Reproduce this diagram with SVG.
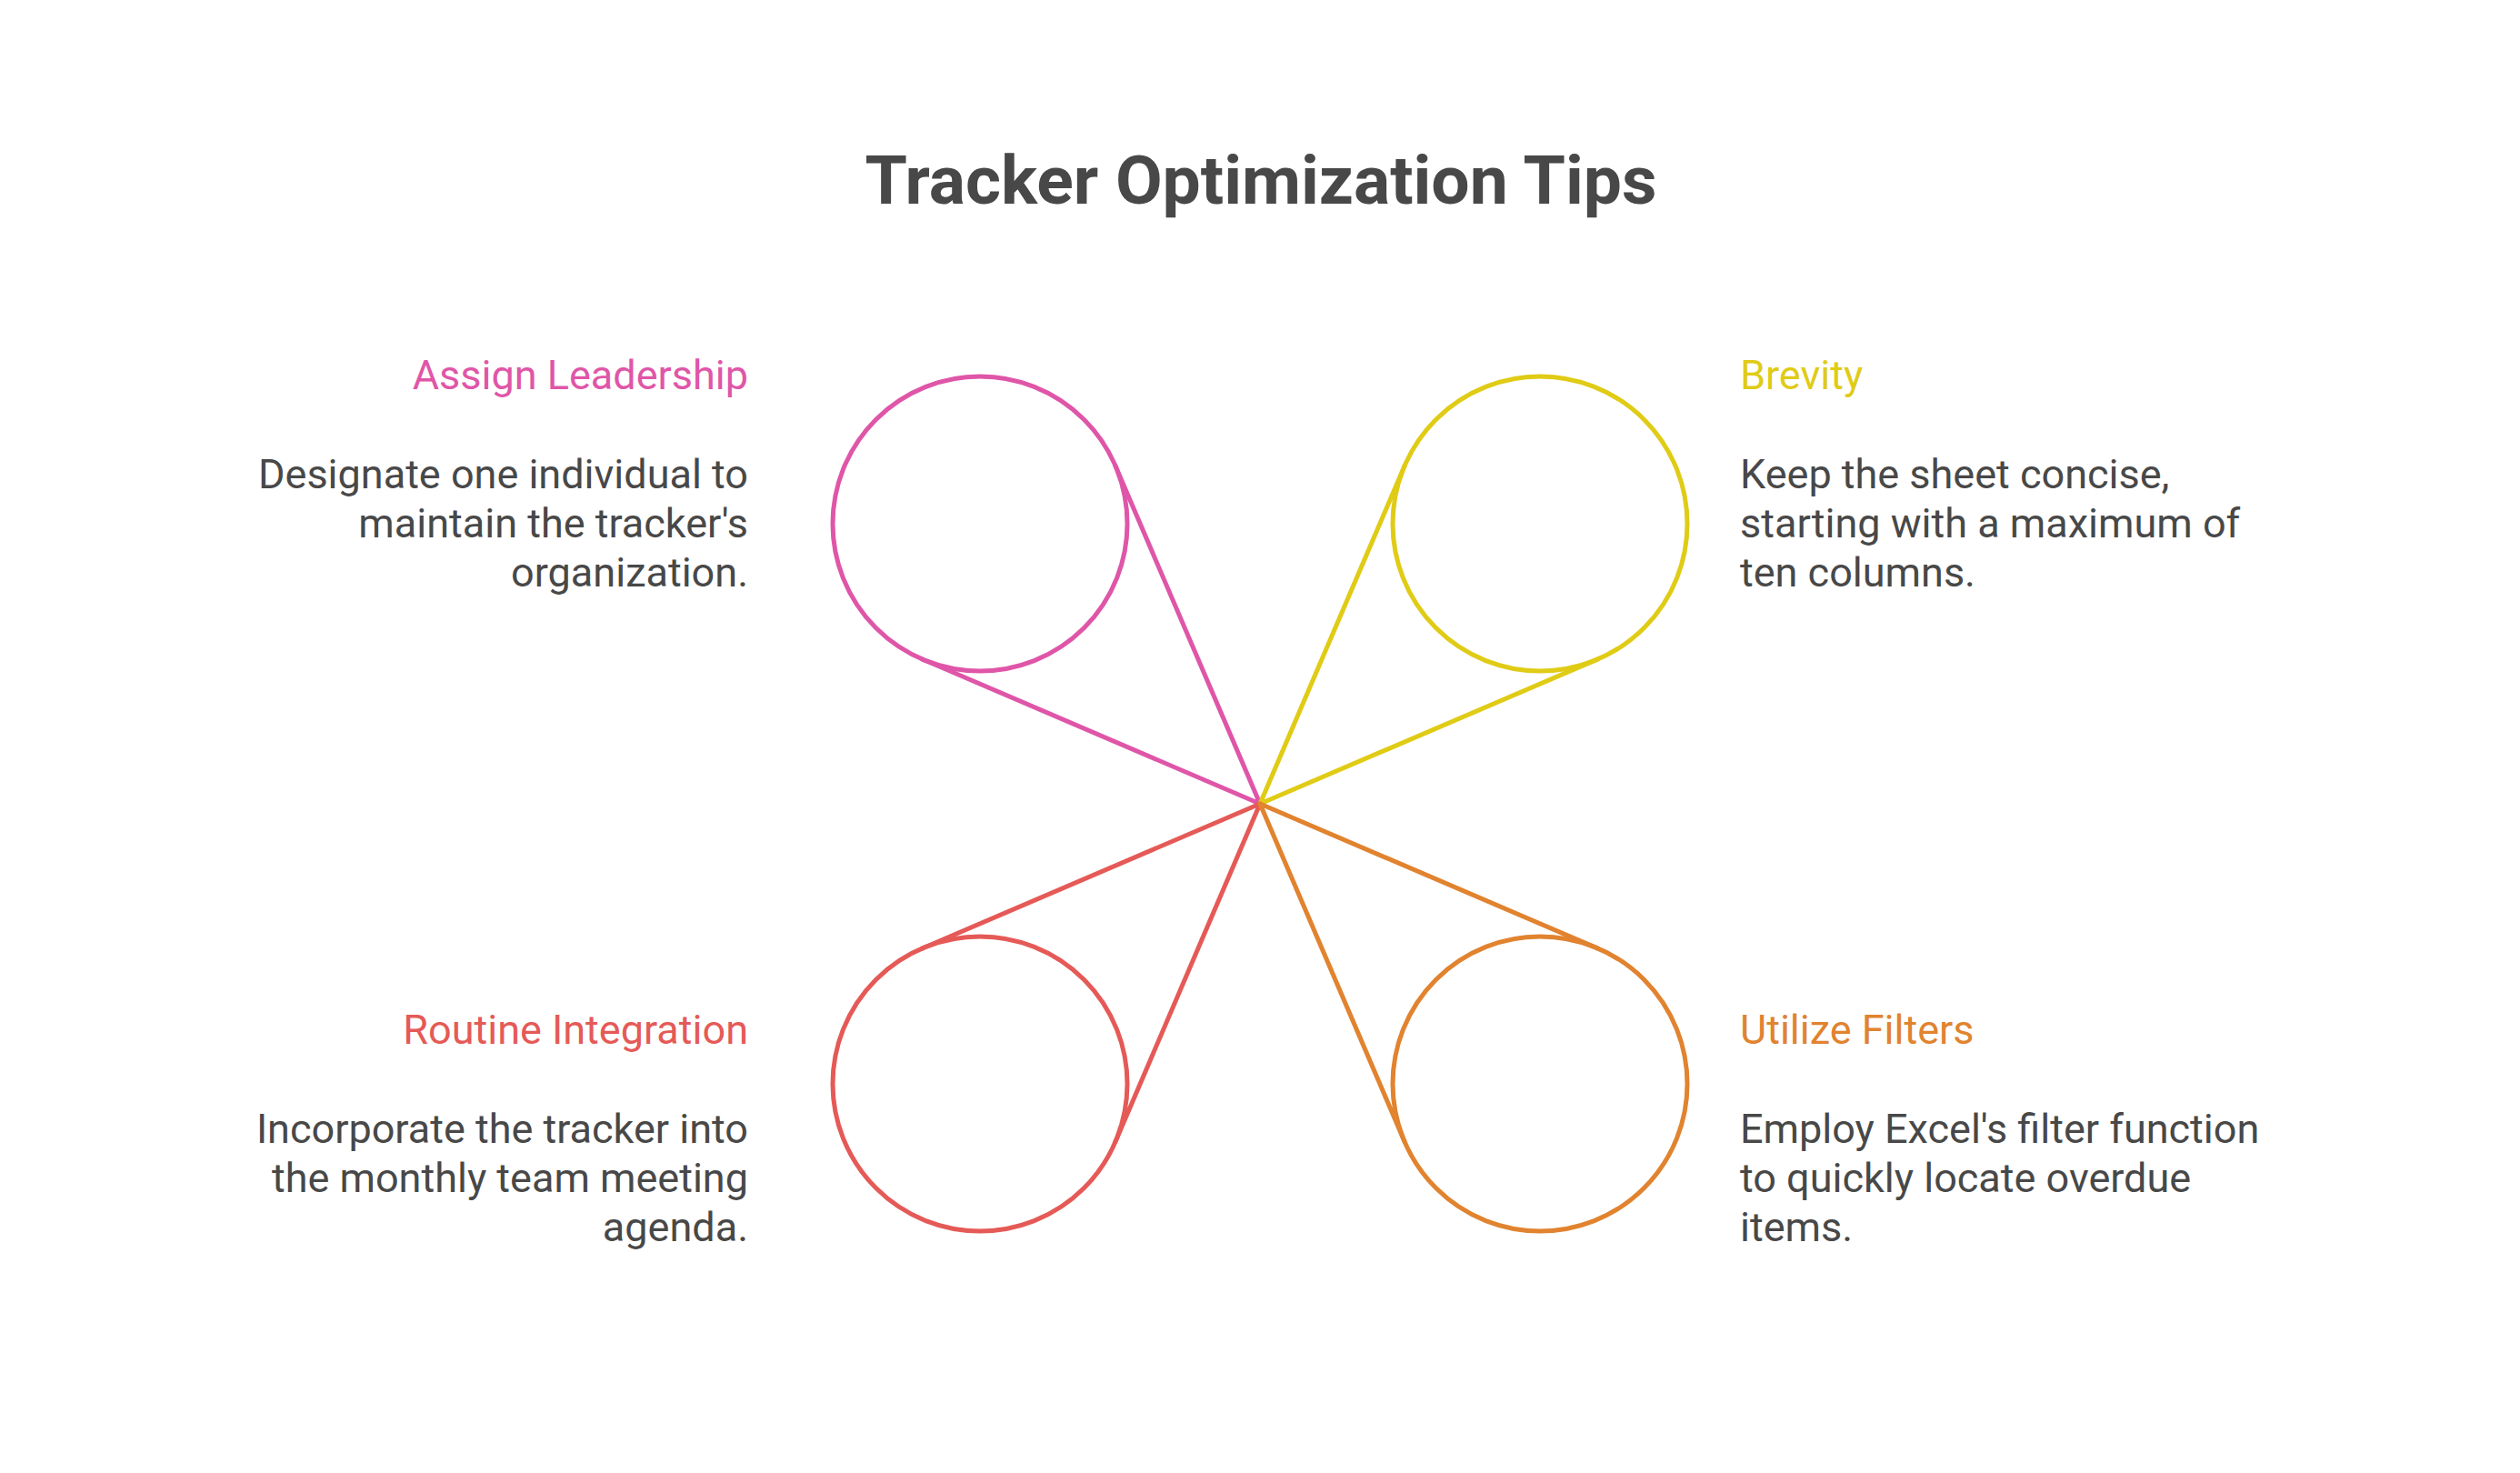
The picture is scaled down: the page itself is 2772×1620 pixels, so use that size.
<svg xmlns="http://www.w3.org/2000/svg" width="2772" height="1620" viewBox="0 0 2772 1620">
<style>
text{font-family:Roboto,"Liberation Sans",sans-serif}
.title{font-size:75px;font-weight:700;fill:#484848}
.h{font-size:45px}
.b{font-size:45px;fill:#484848}
.l{text-anchor:end}
.o{fill:none;stroke-width:5;stroke-linejoin:round;stroke-linecap:round}
</style>
<rect width="2772" height="1620" fill="#ffffff"/>
<text class="title" x="1387" y="224" text-anchor="middle">Tracker Optimization Tips</text>
<g id="connectors">
<path class="o" stroke="#DF56A8" d="M1226.9,512.3 L1386,884 L1014.3,724.9"/>
<path class="o" stroke="#E0CB15" d="M1545.1,512.3 L1386,884 L1757.7,724.9"/>
<path class="o" stroke="#E55A57" d="M1014.3,1043.1 L1386,884 L1226.9,1255.7"/>
<path class="o" stroke="#E1832F" d="M1757.7,1043.1 L1386,884 L1545.1,1255.7"/>
</g>
<g id="assign-leadership">
<circle class="o" stroke="#DF56A8" cx="1078" cy="576" r="162"/>
<text class="h l" x="823" y="428" fill="#DF56A8">Assign Leadership</text>
<text class="b l" x="823" y="537">Designate one individual to</text>
<text class="b l" x="823" y="591">maintain the tracker's</text>
<text class="b l" x="823" y="645">organization.</text>
</g>
<g id="brevity">
<circle class="o" stroke="#E0CB15" cx="1694" cy="576" r="162"/>
<text class="h" x="1914" y="428" fill="#E0CB15">Brevity</text>
<text class="b" x="1914" y="537">Keep the sheet concise,</text>
<text class="b" x="1914" y="591">starting with a maximum of</text>
<text class="b" x="1914" y="645">ten columns.</text>
</g>
<g id="routine-integration">
<circle class="o" stroke="#E55A57" cx="1078" cy="1192" r="162"/>
<text class="h l" x="823" y="1148" fill="#E55A57">Routine Integration</text>
<text class="b l" x="823" y="1257">Incorporate the tracker into</text>
<text class="b l" x="823" y="1311">the monthly team meeting</text>
<text class="b l" x="823" y="1365">agenda.</text>
</g>
<g id="utilize-filters">
<circle class="o" stroke="#E1832F" cx="1694" cy="1192" r="162"/>
<text class="h" x="1914" y="1148" fill="#E1832F">Utilize Filters</text>
<text class="b" x="1914" y="1257">Employ Excel's filter function</text>
<text class="b" x="1914" y="1311">to quickly locate overdue</text>
<text class="b" x="1914" y="1365">items.</text>
</g>
</svg>
